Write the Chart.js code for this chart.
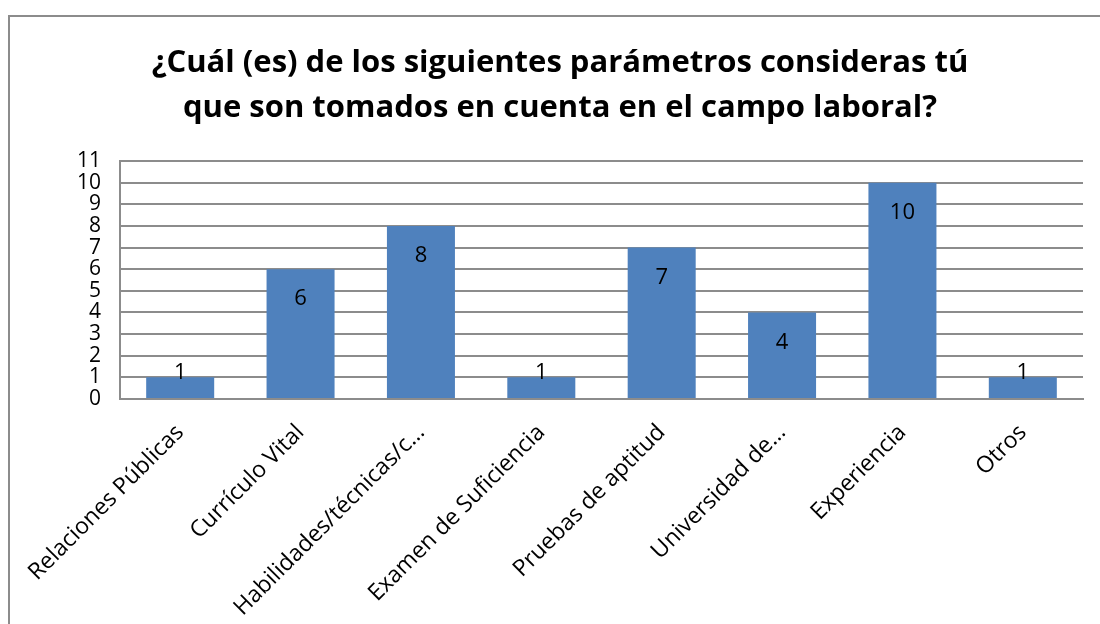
<!DOCTYPE html>
<html>
<head>
<meta charset="utf-8">
<script src="https://cdn.jsdelivr.net/npm/chart.js@4.4.0/dist/chart.umd.min.js"></script>
<style>
  html, body { margin: 0; padding: 0; background: #ffffff; overflow: hidden; }
  #wrap { position: relative; width: 1100px; height: 624px; }
  #frame { position: absolute; left: 8px; top: 15px; width: 1200px; height: 700px; border: 2px solid #8c8c8c; box-sizing: border-box; }
  canvas { position: absolute; left: 0; top: 0; }
</style>
</head>
<body>
<div id="wrap">
  <div id="frame"></div>
  <canvas id="c" width="1100" height="624"></canvas>
</div>
<script>
const titleLines = ["¿Cuál (es) de los siguientes parámetros consideras tú", "que son tomados en cuenta en el campo laboral?"];
const categories = ["Relaciones Públicas", "Currículo Vital", "Habilidades/técnicas/c…", "Examen de Suficiencia", "Pruebas de aptitud", "Universidad de…", "Experiencia", "Otros"];
const values = [1, 6, 8, 1, 7, 4, 10, 1];
const yTicks = [0, 1, 2, 3, 4, 5, 6, 7, 8, 9, 10, 11];

const FONT = "'Open Sans', 'DejaVu Sans', sans-serif";

const labelPlugin = {
  id: 'barLabels',
  afterDatasetsDraw(chart) {
    const ctx = chart.ctx;
    const meta = chart.getDatasetMeta(0);
    ctx.save();
    ctx.font = "22px " + FONT;
    ctx.fillStyle = "#000000";
    ctx.textAlign = "center";
    ctx.textBaseline = "middle";
    meta.data.forEach((bar, i) => {
      const h = bar.base - bar.y;
      const y = h > 45 ? bar.y + 30 : bar.y - 5;
      ctx.fillText(String(values[i]), bar.x, y);
    });
    ctx.restore();
  }
};

new Chart(document.getElementById('c'), {
  type: 'bar',
  data: {
    labels: categories,
    datasets: [{
      data: values,
      backgroundColor: '#4F81BD',
      borderWidth: 0,
      barPercentage: 0.565,
      categoryPercentage: 1.0
    }]
  },
  options: {
    responsive: false,
    animation: false,
    devicePixelRatio: 1,
    layout: { padding: { left: 37, right: 17, top: 0, bottom: 0 } },
    plugins: {
      legend: { display: false },
      tooltip: { enabled: false },
      title: {
        display: true,
        text: titleLines,
        color: '#000000',
        font: { family: FONT, size: 31, weight: 'bold', lineHeight: '45px' },
        padding: { top: 41, bottom: 30 }
      }
    },
    scales: {
      x: {
        grid: { display: false, drawTicks: false },
        border: { display: true, color: '#8c8c8c', width: 2 },
        ticks: {
          color: '#000000',
          font: { family: FONT, size: 23 },
          maxRotation: 45,
          minRotation: 45,
          autoSkip: false,
          padding: 20
        },
        afterFit(scale) { scale.height = 225; }
      },
      y: {
        min: 0,
        max: 11,
        afterBuildTicks(scale) { scale.ticks = yTicks.map(v => ({ value: v })); },
        grid: { color: '#8c8c8c', lineWidth: 2, drawTicks: false },
        border: { display: true, color: '#8c8c8c', width: 2 },
        ticks: {
          color: '#000000',
          font: { family: FONT, size: 21 },
          padding: 19,
          autoSkip: false
        },
        afterFit(scale) { scale.width = 83; }
      }
    }
  },
  plugins: [labelPlugin]
});
</script>
</body>
</html>
